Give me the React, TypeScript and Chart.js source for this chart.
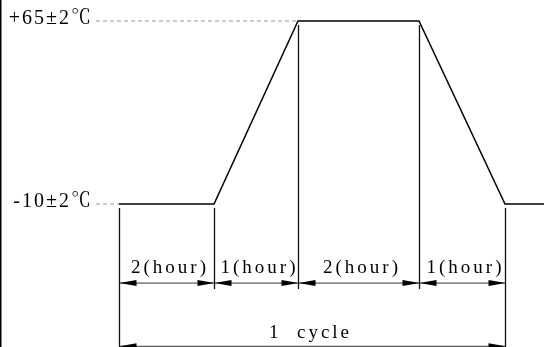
import React, { useEffect, useRef } from "react";
import { Chart, registerables } from "chart.js";

Chart.register(...registerables);

// Diagram positions along the cycle (drawing units, not to time scale)
const stageEdges = [119, 214, 298, 419, 505];
const stageLabels = ["2(hour)", "1(hour)", "2(hour)", "1(hour)"];
const cycleLabel = "1  cycle";

// Temperature profile
const profileX = [119, 214, 298, 419, 505, 544];
const profileT = [-10, -10, 65, 65, -10, -10];

// Temperature levels and labels
const levelValues = [65, -10];
const levelLabels = ["+65±2℃", "-10±2℃"];
const levelDashEnd = [298, 119];

// Dimension-line levels (temperature units)
const dimLevel = -42.4;
const cycleLevel = -68.3;

const FONT = '"Liberation Serif", "Noto Serif CJK SC", "Noto Sans CJK SC", serif';

const annotPlugin = {
  id: "annot",
  afterDatasetsDraw(chart: any) {
    const ctx = chart.ctx as any;
    const xs = chart.scales.x;
    const ys = chart.scales.y;
    const H = chart.height;
    ctx.save();

    // left frame line
    ctx.strokeStyle = "#000";
    ctx.lineWidth = 1.5;
    ctx.beginPath();
    ctx.moveTo(0.75, 0);
    ctx.lineTo(0.75, H);
    ctx.stroke();

    const lowY = ys.getPixelForValue(-10);
    const highY = ys.getPixelForValue(65);
    const dimY = ys.getPixelForValue(dimLevel);
    const cycY = ys.getPixelForValue(cycleLevel);

    // extension (witness) lines
    ctx.lineWidth = 1.3;
    ctx.strokeStyle = "#111";
    stageEdges.forEach((e: number, i: number) => {
      const px = Math.round(xs.getPixelForValue(e)) + 0.5;
      const top = i === 2 || i === 3 ? highY + 4 : lowY + 4;
      const bottom = i === 0 || i === stageEdges.length - 1 ? H : dimY + 6;
      ctx.beginPath();
      ctx.moveTo(px, top);
      ctx.lineTo(px, bottom);
      ctx.stroke();
    });

    const arrow = (tipX: number, y: number, dir: number) => {
      ctx.beginPath();
      ctx.moveTo(tipX, y);
      ctx.lineTo(tipX + dir * 17, y - 3);
      ctx.lineTo(tipX + dir * 17, y + 3);
      ctx.closePath();
      ctx.fill();
    };

    const dimLine = (a: number, b: number, y: number) => {
      ctx.strokeStyle = "#333";
      ctx.fillStyle = "#000";
      ctx.lineWidth = 1;
      ctx.beginPath();
      ctx.moveTo(a, y);
      ctx.lineTo(b, y);
      ctx.stroke();
      arrow(a, y, 1);
      arrow(b, y, -1);
    };

    ctx.textBaseline = "alphabetic";
    ctx.textAlign = "center";

    // stage dimension lines and labels
    ctx.font = `19px ${FONT}`;
    ctx.letterSpacing = "3px";
    for (let i = 0; i < stageLabels.length; i++) {
      const a = Math.round(xs.getPixelForValue(stageEdges[i])) + 0.5;
      const b = Math.round(xs.getPixelForValue(stageEdges[i + 1])) + 0.5;
      dimLine(a, b, dimY);
      ctx.fillStyle = "#000";
      ctx.fillText(stageLabels[i], (a + b) / 2 + 3, dimY - 10);
    }

    // cycle dimension
    const a0 = Math.round(xs.getPixelForValue(stageEdges[0])) + 0.5;
    const a1 = Math.round(xs.getPixelForValue(stageEdges[stageEdges.length - 1])) + 0.5;
    dimLine(a0, a1, cycY);
    ctx.fillStyle = "#000";
    ctx.font = `19px ${FONT}`;
    ctx.letterSpacing = "3px";
    ctx.fillText(cycleLabel, (a0 + a1) / 2 - 2, cycY - 8);

    // level labels
    ctx.font = `20px ${FONT}`;
    ctx.letterSpacing = "2px";
    ctx.textAlign = "right";
    levelValues.forEach((v: number, i: number) => {
      const y = ys.getPixelForValue(v);
      ctx.fillText(levelLabels[i], 93, y + 3);
    });

    ctx.restore();
  },
};

export default function App() {
  const ref = useRef<HTMLCanvasElement | null>(null);
  useEffect(() => {
    if (!ref.current) return;
    const profile = profileX.map((x, i) => ({ x, y: profileT[i] }));
    const dashSets = levelValues.map((v, i) => ({
      data: [
        { x: 96, y: v },
        { x: levelDashEnd[i], y: v },
      ],
      borderColor: "#999",
      borderWidth: 1,
      borderDash: [4, 3],
      pointRadius: 0,
      fill: false,
      clip: false as any,
    }));
    const chart = new Chart(ref.current, {
      type: "line",
      data: {
        datasets: [
          ...dashSets,
          {
            data: profile,
            borderColor: "#000",
            borderWidth: 1.5,
            pointRadius: 0,
            fill: false,
            tension: 0,
            clip: false as any,
          },
        ],
      },
      options: {
        animation: false,
        responsive: false,
        maintainAspectRatio: false,
        layout: { padding: 0 },
        plugins: { legend: { display: false }, tooltip: { enabled: false } },
        events: [],
        scales: {
          x: { type: "linear", min: 0, max: 544, display: false },
          y: { type: "linear", min: -68.6, max: 73.6, display: false },
        },
      },
      plugins: [annotPlugin],
    });
    return () => chart.destroy();
  }, []);
  return (
    <div style={{ position: "fixed", left: 0, top: 0, width: 544, height: 347, background: "#fff" }}>
      <canvas ref={ref} width={544} height={347} style={{ display: "block" }} />
    </div>
  );
}
